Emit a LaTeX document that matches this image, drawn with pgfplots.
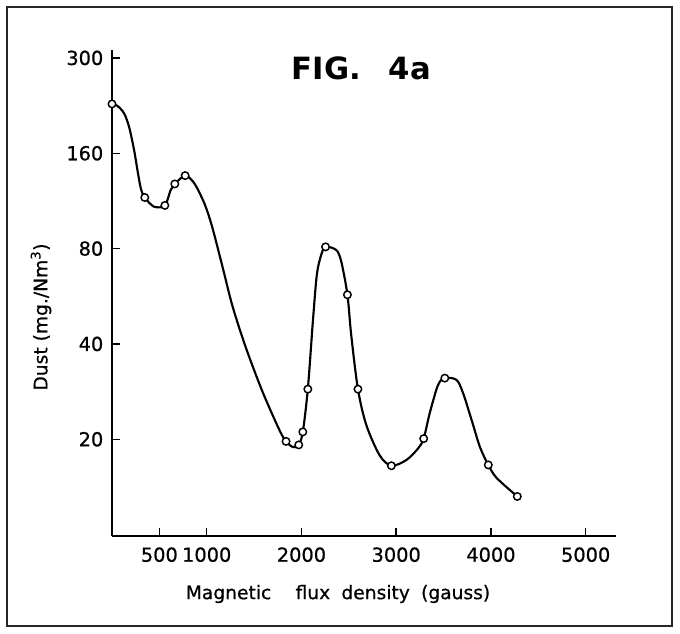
\documentclass[border=0pt]{standalone}
\usepackage{pgfplots}
\pgfplotsset{compat=1.18}
\usepackage{fontspec}
\setmainfont{DejaVu Sans}
\newfontfamily\heavy[FakeBold=0.7]{DejaVu Sans}

\pgfplotstableread{
x y
0 229
56 226
127 214
180 194
233 164
268 142
304 124
346 116
444 108.5
558 109.5
620 122.6
663 128
772 136
868 128.7
974 111.3
1056 94
1167 70
1273 52.5
1415 38.8
1590 28.2
1767 21.4
1837 19.7
1910 18.9
1971 19.2
2014 21.1
2067 28.8
2120 47
2162 66.1
2208 76.4
2254 81
2367 79.2
2420 72.8
2485 57.2
2525 42.7
2596 28.8
2684 22.2
2825 17.8
2949 16.5
3107 17.2
3230 18.7
3290 20.1
3354 24.2
3442 29.7
3513 31.2
3637 30.8
3707 27.9
3796 23.0
3884 18.9
3972 16.6
4060 15.1
4278 13.2
}\curvedata

\pgfplotstableread{
x y
0 229
346 116
558 109.5
663 128
772 136
1837 19.7
1971 19.2
2014 21.1
2067 28.8
2254 81
2485 57.2
2596 28.8
2949 16.5
3290 20.1
3513 31.2
3972 16.6
4278 13.2
}\pointdata

\begin{document}
\begin{tikzpicture}
\useasboundingbox (-84pt,-72.75pt) rectangle (426pt,402pt);
\begin{axis}[
    scale only axis,
    width=378pt, height=364.5pt,
    axis x line*=bottom, axis y line*=left,
    axis line style={line width=1.4pt},
    xmin=0, xmax=5320,
    ymode=log, log basis y=2,
    ymin=9.9, ymax=339,
    xtick={500,1000,2000,3000,4000,5000},
    xticklabels={500,1000,2000,3000,4000,5000},
    ytick={20,40,80,160,320},
    yticklabels={20,40,80,160,300},
    minor tick num=0, yminorticks=false,
    tick align=inside, major tick length=6pt,
    tick style={line width=1.1pt, black},
    /pgf/number format/assume math mode=true,
    tick label style={font=\heavy\fontsize{14.5}{16}\selectfont},
    xticklabel style={yshift=-5pt},
    yticklabel style={xshift=-3pt},
    clip=false,
]
\addplot[black, line width=1.6pt, smooth, tension=0.5] table[x=x, y=y] {\curvedata};
\addplot[only marks, mark=*, mark size=2.8pt,
    mark options={fill=white, draw=black, line width=1.1pt}] table[x=x, y=y] {\pointdata};
\end{axis}
\node[font=\bfseries\fontsize{23}{28}\selectfont] at (187pt,351pt) {FIG.\hspace{0.9em}4a};
\node[rotate=90, font=\heavy\fontsize{14}{16}\selectfont] at (-53.25pt,164.25pt) {Dust (mg./Nm\textsuperscript{3})};
\node[font=\heavy\fontsize{14}{16}\selectfont] at (169.5pt,-43.5pt) {Magnetic\hspace{1.3em}flux\hspace{0.6em}density\hspace{0.6em}(gauss)};
\draw[line width=1pt, black!85] (-78.75pt,-67.5pt) rectangle (420pt,396.75pt);
\end{tikzpicture}
\end{document}
